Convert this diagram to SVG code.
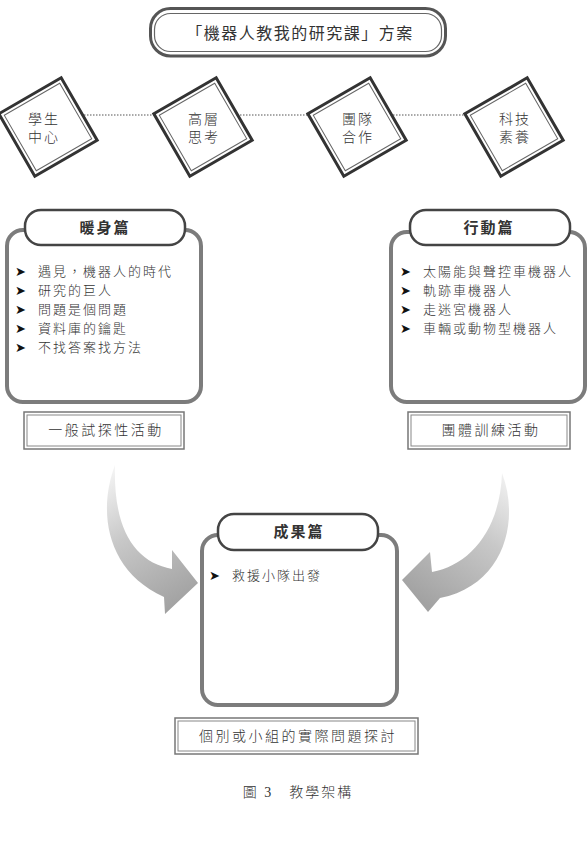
<svg xmlns="http://www.w3.org/2000/svg" width="588" height="847" viewBox="0 0 588 847">
<style>
  .t { font-family: 'Liberation Serif', 'Noto Sans CJK TC', serif; fill: #333; }
  .dia-t { font-size: 14px; letter-spacing: 2px; text-anchor: middle; font-weight: 300; }
  .item { font-size: 13px; letter-spacing: 2px; font-weight: 300; }
  .bul { font-family: 'DejaVu Sans', sans-serif; font-size: 13px; fill: #111; }
  .head { font-size: 15px; letter-spacing: 2px; text-anchor: middle; font-weight: 700; }
  .lab { font-size: 14px; letter-spacing: 2.5px; text-anchor: middle; font-weight: 300; }
  .panel { fill: #fff; stroke: #7c7c7c; stroke-width: 4; }
  .pill { fill: #fff; stroke: #444; stroke-width: 2.5; }
  .box-o { fill: #fff; stroke: #777; stroke-width: 1.5; }
  .box-i { fill: none; stroke: #888; stroke-width: 1; }
  .dia-o { fill: #fff; stroke: #333; stroke-width: 3; }
  .dia-i { fill: none; stroke: #666; stroke-width: 1; }
</style>
<defs>
  <linearGradient id="gL" gradientUnits="userSpaceOnUse" x1="105" y1="470" x2="185" y2="600">
    <stop offset="0" stop-color="#f6f6f6"/>
    <stop offset="0.45" stop-color="#c8c8c8"/>
    <stop offset="1" stop-color="#a2a2a2"/>
  </linearGradient>
  <linearGradient id="gR" gradientUnits="userSpaceOnUse" x1="510" y1="470" x2="420" y2="600">
    <stop offset="0" stop-color="#f6f6f6"/>
    <stop offset="0.45" stop-color="#c8c8c8"/>
    <stop offset="1" stop-color="#a2a2a2"/>
  </linearGradient>
</defs>

<rect width="588" height="847" fill="#fff"/>

<g id="title">
  <rect x="150.5" y="8.5" width="295" height="47.5" rx="20" fill="#fff" stroke="#555" stroke-width="3"/>
  <rect x="154.5" y="13.5" width="287" height="38" rx="16" fill="none" stroke="#666" stroke-width="1.2"/>
  <text class="t" x="300" y="39" font-size="16" letter-spacing="1.5" text-anchor="middle" font-weight="400">「機器人教我的研究課」方案</text>
</g>

<g id="connectors">
  <line x1="48" y1="115" x2="514" y2="115" stroke="#555" stroke-width="1.2" stroke-dasharray="1.5 1.5"/>
  <path d="M115,465 C98,510 105,570 164,597 L165,614 L198,583 L172,550 L172,569 C135,562 113,530 115,465 Z" fill="url(#gL)"/>
  <path d="M502,473 C520,520 505,585 440,598 L428,612 L402,580 L430,552 L432,572 C470,565 500,530 502,473 Z" fill="url(#gR)"/>
</g>

<g id="d1" transform="translate(48,127)">
  <g transform="rotate(-30)">
    <rect class="dia-o" x="-36" y="-36" width="72" height="72"/>
    <rect class="dia-i" x="-32" y="-32" width="64" height="64"/>
  </g>
  <text class="t dia-t" x="-4" y="-3.5">學生</text>
  <text class="t dia-t" x="-4" y="14.5">中心</text>
</g>
<g id="d2" transform="translate(203,127)">
  <g transform="rotate(-30)">
    <rect class="dia-o" x="-36" y="-36" width="72" height="72"/>
    <rect class="dia-i" x="-32" y="-32" width="64" height="64"/>
  </g>
  <text class="t dia-t" x="1" y="-3.5">高層</text>
  <text class="t dia-t" x="1" y="14.5">思考</text>
</g>
<g id="d3" transform="translate(357,127)">
  <g transform="rotate(-30)">
    <rect class="dia-o" x="-36" y="-36" width="72" height="72"/>
    <rect class="dia-i" x="-32" y="-32" width="64" height="64"/>
  </g>
  <text class="t dia-t" x="1" y="-3.5">團隊</text>
  <text class="t dia-t" x="1" y="14.5">合作</text>
</g>
<g id="d4" transform="translate(514,127)">
  <g transform="rotate(-30)">
    <rect class="dia-o" x="-36" y="-36" width="72" height="72"/>
    <rect class="dia-i" x="-32" y="-32" width="64" height="64"/>
  </g>
  <text class="t dia-t" x="1" y="-3.5">科技</text>
  <text class="t dia-t" x="1" y="14.5">素養</text>
</g>

<g id="warmup">
  <rect class="panel" x="7" y="230" width="194" height="172" rx="16"/>
  <rect class="pill" x="25" y="210" width="160" height="35" rx="16"/>
  <text class="t head" x="105" y="233">暖身篇</text>
  <text class="bul" x="15" y="276">➤</text>
  <text class="t item" x="38" y="276">遇見，機器人的時代</text>
  <text class="bul" x="15" y="295">➤</text>
  <text class="t item" x="38" y="295">研究的巨人</text>
  <text class="bul" x="15" y="314">➤</text>
  <text class="t item" x="38" y="314">問題是個問題</text>
  <text class="bul" x="15" y="333">➤</text>
  <text class="t item" x="38" y="333">資料庫的鑰匙</text>
  <text class="bul" x="15" y="352">➤</text>
  <text class="t item" x="38" y="352">不找答案找方法</text>
</g>
<g id="warmup-label">
  <rect class="box-o" x="24" y="412" width="160" height="37"/>
  <rect class="box-i" x="27" y="415" width="154" height="31"/>
  <text class="t lab" x="106" y="435">一般試探性活動</text>
</g>

<g id="action">
  <rect class="panel" x="391" y="232" width="194" height="170" rx="16"/>
  <rect class="pill" x="410" y="210" width="160" height="35" rx="16"/>
  <text class="t head" x="489" y="233">行動篇</text>
  <text class="bul" x="400" y="276">➤</text>
  <text class="t item" x="423" y="276">太陽能與聲控車機器人</text>
  <text class="bul" x="400" y="295">➤</text>
  <text class="t item" x="423" y="295">軌跡車機器人</text>
  <text class="bul" x="400" y="314">➤</text>
  <text class="t item" x="423" y="314">走迷宮機器人</text>
  <text class="bul" x="400" y="333">➤</text>
  <text class="t item" x="423" y="333">車輛或動物型機器人</text>
</g>
<g id="action-label">
  <rect class="box-o" x="408" y="412" width="162" height="37"/>
  <rect class="box-i" x="411" y="415" width="156" height="31"/>
  <text class="t lab" x="491" y="435">團體訓練活動</text>
</g>

<g id="result">
  <rect class="panel" x="202" y="535" width="195" height="170" rx="16"/>
  <rect class="pill" x="218" y="514" width="160" height="36" rx="16"/>
  <text class="t head" x="299" y="537">成果篇</text>
  <text class="bul" x="209" y="580">➤</text>
  <text class="t item" x="232" y="580">救援小隊出發</text>
</g>
<g id="result-label">
  <rect class="box-o" x="175" y="718" width="243" height="36"/>
  <rect class="box-i" x="178" y="721" width="237" height="30"/>
  <text class="t lab" x="298" y="741">個別或小組的實際問題探討</text>
</g>

<text class="t" x="298" y="797" font-size="14" letter-spacing="2" text-anchor="middle" font-weight="300">圖 3　教學架構</text>
</svg>
